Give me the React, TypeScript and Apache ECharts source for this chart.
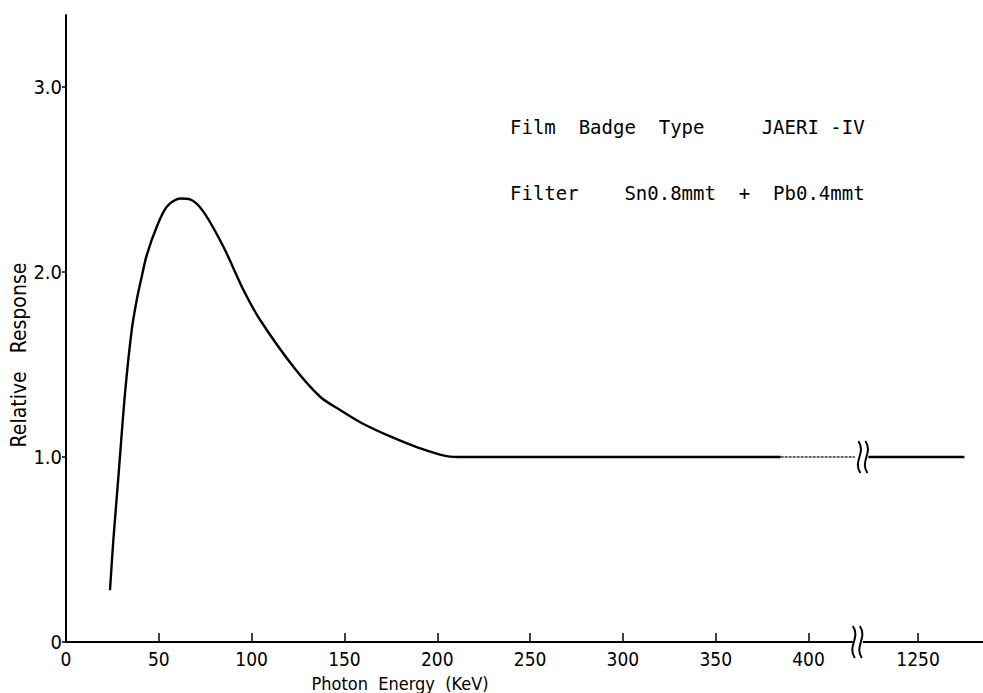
import React, { useEffect, useRef } from "react";
import * as echarts from "echarts";

// Photon energy (keV) and relative response
const energyMain = [23.7, 25.5, 28.2, 31.8, 35.4, 38.1, 40.8, 43.5, 48.9, 54.3, 61.5, 66.8, 74.0, 84.8, 95.6, 104.6, 122.5, 136.9, 147.7, 160, 175, 190, 205, 215, 300, 385];
const responseMain = [0.28, 0.55, 0.89, 1.345, 1.686, 1.849, 1.975, 2.092, 2.245, 2.353, 2.398, 2.393, 2.327, 2.137, 1.903, 1.741, 1.488, 1.326, 1.254, 1.18, 1.11, 1.05, 1.005, 1.0, 1.0, 1.0];
const energyFaint = [385, 425];
const responseFaint = [1.0, 1.0];
const energyHigh = [1223, 1275];
const responseHigh = [1.0, 1.0];

const xTickEnergies = [0, 50, 100, 150, 200, 250, 300, 350, 400, 1250];
const yTickValues = [0, 1, 2, 3];

const titleLine1 = "Film  Badge  Type     JAERI -IV";
const titleLine2 = "Filter    Sn0.8mmt  +  Pb0.4mmt";
const xName = "Photon  Energy  (KeV)";
const yName = "Relative   Response";

// broken axis: energies above the break are shifted down
const BREAK_AT = 428.5;
const SHIFT = 791;
const toVirtual = (e: number) => (e > 600 ? e - SHIFT : e);
const fromVirtual = (v: number) => (v > BREAK_AT ? v + SHIFT : v);

const pairs = (xs: number[], ys: number[]) => xs.map((x, i) => [toVirtual(x), ys[i]]);

const FONT = "'Liberation Sans Narrow', 'DejaVu Sans Condensed', sans-serif";
const MONO = "'DejaVu Sans Mono', 'Liberation Mono', monospace";

export default function App() {
  const ref = useRef<HTMLDivElement>(null);
  useEffect(() => {
    if (!ref.current) return;
    const chart = echarts.init(ref.current, null, { renderer: "svg" });
    const lineStyle = { color: "#000", width: 2.4 };
    chart.setOption({
      animation: false,
      backgroundColor: "#fff",
      grid: { left: 66, right: 0, top: 15, bottom: 51, containLabel: false },
      xAxis: {
        type: "value",
        min: 0,
        max: 494,
        axisLine: { show: true, onZero: false, lineStyle: { color: "#000", width: 2 } },
        axisTick: { show: true, inside: true, length: 9, customValues: xTickEnergies.map(toVirtual), lineStyle: { color: "#000", width: 1.5 } },
        axisLabel: {
          customValues: xTickEnergies.map(toVirtual),
          formatter: (v: number) => String(Math.round(fromVirtual(v))),
          color: "#000",
          fontSize: 19,
          fontFamily: FONT,
          margin: 7,
        },
        splitLine: { show: false },
      },
      yAxis: {
        type: "value",
        min: 0,
        max: 3.39,
        axisLine: { show: true, lineStyle: { color: "#000", width: 2 } },
        axisTick: { show: true, length: 4, customValues: yTickValues, lineStyle: { color: "#000", width: 1.5 } },
        axisLabel: {
          customValues: yTickValues,
          formatter: (v: number) => (v === 0 ? "0" : v.toFixed(1)),
          color: "#000",
          fontSize: 20,
          fontFamily: FONT,
          margin: 4,
        },
        splitLine: { show: false },
      },
      series: [
        { type: "line", data: pairs(energyMain, responseMain), smooth: 0.3, showSymbol: false, lineStyle },
        { type: "line", data: pairs(energyFaint, responseFaint), showSymbol: false, lineStyle: { color: "#333", width: 1.4, type: [3, 1] } },
        { type: "line", data: pairs(energyHigh, responseHigh), showSymbol: false, lineStyle },
      ],
    });

    const pCurve = chart.convertToPixel({ gridIndex: 0 }, [BREAK_AT, 1.0]) as number[];
    const pAxis = chart.convertToPixel({ gridIndex: 0 }, [BREAK_AT - 3, 0]) as number[];
    const breakMark = (cx: number, cy: number) => {
      const s = (x: number) => ({
        type: "bezierCurve",
        shape: { x1: x, y1: cy - 16, x2: x + 2, y2: cy + 16, cpx1: x + 8, cpy1: cy - 4, cpx2: x - 6, cpy2: cy + 4 },
        style: { stroke: "#000", lineWidth: 2, fill: null },
        z: 10,
      });
      return [
        { type: "rect", shape: { x: cx - 3, y: cy - 4, width: 10, height: 8 }, style: { fill: "#fff" }, z: 9 },
        s(cx - 3),
        s(cx + 4),
      ];
    };

    chart.setOption({
      graphic: [
        ...breakMark(pCurve[0], pCurve[1]),
        ...breakMark(pAxis[0], pAxis[1]),
        { type: "text", left: 510, top: 117, style: { text: titleLine1, fontSize: 19, fontFamily: MONO, fill: "#000" } },
        { type: "text", left: 510, top: 183, style: { text: titleLine2, fontSize: 19, fontFamily: MONO, fill: "#000" } },
        { type: "text", x: 400, y: 683, style: { text: xName, fontSize: 18, fontFamily: FONT, fill: "#000", align: "center", verticalAlign: "middle" } },
        { type: "text", x: 19, y: 355, rotation: Math.PI / 2, style: { text: yName, fontSize: 21, fontFamily: FONT, fill: "#000", align: "center", verticalAlign: "middle" } },
      ],
    });
    return () => chart.dispose();
  }, []);
  return <div ref={ref} style={{ position: "fixed", left: 0, top: 0, width: 983, height: 693, background: "#fff" }} />;
}
